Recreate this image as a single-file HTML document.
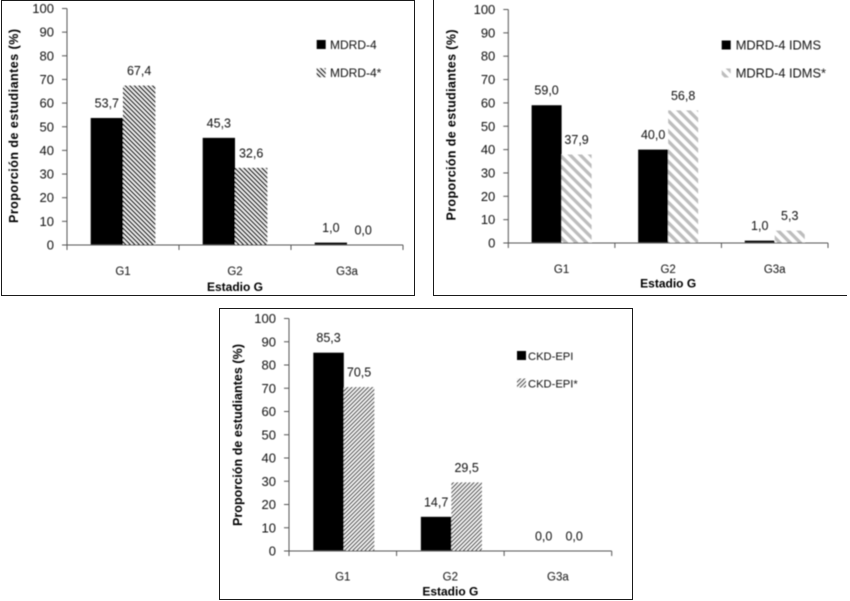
<!DOCTYPE html>
<html lang="es">
<head>
<meta charset="utf-8">
<title>Proporción de estudiantes por estadio G</title>
<style>
html,body{margin:0;padding:0;background:#fff;}
body{width:850px;height:601px;overflow:hidden;}
svg{display:block;font-family:"Liberation Sans",sans-serif;}
</style>
</head>
<body>
<svg id="figure" width="850" height="601" viewBox="0 0 850 601" xmlns="http://www.w3.org/2000/svg">
<defs>
<filter id="soft" x="-5%" y="-5%" width="110%" height="110%"><feGaussianBlur stdDeviation="0.4"/></filter>
<pattern id="hatch-a" patternUnits="userSpaceOnUse" width="3.2" height="3.2" patternTransform="rotate(45)">
<rect width="3.2" height="3.2" fill="#fff"/><rect width="3.2" height="1.6" fill="#1c1c1c"/>
</pattern>
<pattern id="hatch-b" patternUnits="userSpaceOnUse" width="7.2" height="7.2" patternTransform="rotate(45)">
<rect width="7.2" height="7.2" fill="#fff"/><rect width="7.2" height="3.4" fill="#bdbdbd"/>
</pattern>
<pattern id="hatch-c" patternUnits="userSpaceOnUse" width="2.9" height="2.9" patternTransform="rotate(-45)">
<rect width="2.9" height="2.9" fill="#fff"/><rect width="2.9" height="1.4" fill="#5c5c5c"/>
</pattern>
</defs>
<g id="frames"></g>
<g id="root" filter="url(#soft)"></g>
</svg>
<script>
const categories = ["G1", "G2", "G3a"];
const yTicks = [0, 10, 20, 30, 40, 50, 60, 70, 80, 90, 100];
const yAxisTitle = "Proporción de estudiantes (%)";
const xAxisTitle = "Estadio G";

const mdrdNames = ["MDRD-4", "MDRD-4*"];
const mdrdValues = [53.7, 45.3, 1.0];
const mdrdStarValues = [67.4, 32.6, 0.0];

const idmsNames = ["MDRD-4 IDMS", "MDRD-4 IDMS*"];
const idmsValues = [59.0, 40.0, 1.0];
const idmsStarValues = [37.9, 56.8, 5.3];

const ckdNames = ["CKD-EPI", "CKD-EPI*"];
const ckdValues = [85.3, 14.7, 0.0];
const ckdStarValues = [70.5, 29.5, 0.0];

const panels = [
  {id:"mdrd", names:mdrdNames, a:mdrdValues, b:mdrdStarValues, hatch:"hatch-a",
   framePath:"M1.5 0.5H414.5V295.5H1.5Z", x0:67, x1:403, y0:245, y100:8.5, barW:32.3, gap:23.7,
   legendX:316.7, legendY:[44.5,72.7], legendText:330, legendSize:12, titleX:14, titleCy:126, titleLen:194, xTitleY:291, catY:275},
  {id:"idms", names:idmsNames, a:idmsValues, b:idmsStarValues, hatch:"hatch-b",
   framePath:"M433.5 0V295.5H847", x0:508.3, x1:828, y0:243, y100:9.5, barW:30, gap:23.3,
   legendX:721.7, legendY:[45,73], legendText:735.7, legendSize:12.8, titleX:451.5, titleCy:125, titleLen:191, xTitleY:287.5, catY:273},
  {id:"ckd", names:ckdNames, a:ckdValues, b:ckdStarValues, hatch:"hatch-c",
   framePath:"M219.5 308.5H632.5V599.5H219.5Z", x0:289, x1:611.7, y0:551, y100:318.5, barW:30.5, gap:24.3,
   legendX:517, legendY:[355.5,383], legendText:528, legendSize:11.2, titleX:238, titleCy:435, titleLen:182, xTitleY:595.5, catY:580.5}
];

const NS = "http://www.w3.org/2000/svg";
const root = document.getElementById("root");
const frames = document.getElementById("frames");

function make(parent, tag, attrs, text) {
  const el = document.createElementNS(NS, tag);
  for (const k in attrs) el.setAttribute(k, attrs[k]);
  if (text !== undefined) el.textContent = text;
  parent.appendChild(el);
  return el;
}
function fmt(v) { return v.toFixed(1).replace(".", ","); }

panels.forEach(function (p) {
  const frame = make(frames, "path", {d:p.framePath, fill:"none", stroke:"#1a1a1a", "stroke-width":1});
  
  

  const g = make(root, "g", {});
  
  

  const yScale = function (v) { return p.y0 - (v / 100) * (p.y0 - p.y100); };
  const band = (p.x1 - p.x0) / categories.length;
  const barX = function (i, s) { return p.x0 + band * i + p.gap + s * p.barW; };

  // bars
  categories.forEach(function (c, i) {
    [p.a[i], p.b[i]].forEach(function (v, s) {
      if (v <= 0) return;
      const y = yScale(v);
      const bar = make(g, "rect", {x:barX(i,s), y:y, width:p.barW, height:p.y0 - y, fill: s === 0 ? "#000" : "url(#" + p.hatch + ")"});
      
      
    });
  });

  // axes
  const yAxis = make(g, "line", {x1:p.x0, x2:p.x0, y1:p.y100, y2:p.y0, stroke:"#555", "stroke-width":1});
  
  
  const xAxis = make(g, "line", {x1:p.x0, x2:p.x1, y1:p.y0, y2:p.y0, stroke:"#555", "stroke-width":1});
  
  

  yTicks.forEach(function (t) {
    const y = yScale(t);
    const tick = make(g, "line", {x1:p.x0-5, x2:p.x0, y1:y, y2:y, stroke:"#555"});
    
    
    const lbl = make(g, "text", {x:p.x0-13, y:y+4.5, "text-anchor":"end", "font-size":13, fill:"#111"}, String(t));
    
    
  });
  for (let i = 0; i <= categories.length; i++) {
    const x = p.x0 + band * i;
    const tick = make(g, "line", {x1:x, x2:x, y1:p.y0, y2:p.y0+5, stroke:"#555"});
    
    
  }
  categories.forEach(function (c, i) {
    const lbl = make(g, "text", {x:p.x0 + band*(i+0.5), y:p.catY, "text-anchor":"middle", "font-size":11.5, fill:"#111"}, c);
    
    
  });

  // value labels
  categories.forEach(function (c, i) {
    [p.a[i], p.b[i]].forEach(function (v, s) {
      const lbl = make(g, "text", {x:barX(i,s)+p.barW/2, y:yScale(v)-10.5, "text-anchor":"middle", "font-size":12.5, fill:"#111"}, fmt(v));
      
      
    });
  });

  // axis titles
  const yt = make(g, "text", {x:p.titleX, y:p.titleCy, transform:"rotate(-90 " + p.titleX + " " + p.titleCy + ")", "text-anchor":"middle", "dominant-baseline":"central", "font-size":12.5, "font-weight":"bold", fill:"#000", textLength:p.titleLen, lengthAdjust:"spacing"}, yAxisTitle);
  
  
  const xt = make(g, "text", {x:p.x0 + band*1.5, y:p.xTitleY, "text-anchor":"middle", "font-size":12, "font-weight":"bold", fill:"#000"}, xAxisTitle);
  
  

  // legend
  p.names.forEach(function (n, s) {
    const ly = p.legendY[s];
    const sw = make(g, "rect", {x:p.legendX, y:ly-4.5, width:9, height:9, fill: s === 0 ? "#000" : "url(#" + p.hatch + ")"});
    
    
    const t = make(g, "text", {x:p.legendText, y:ly+4.5, "font-size":p.legendSize, fill:"#111"}, n);
    
    
  });
});
</script>
</body>
</html>
